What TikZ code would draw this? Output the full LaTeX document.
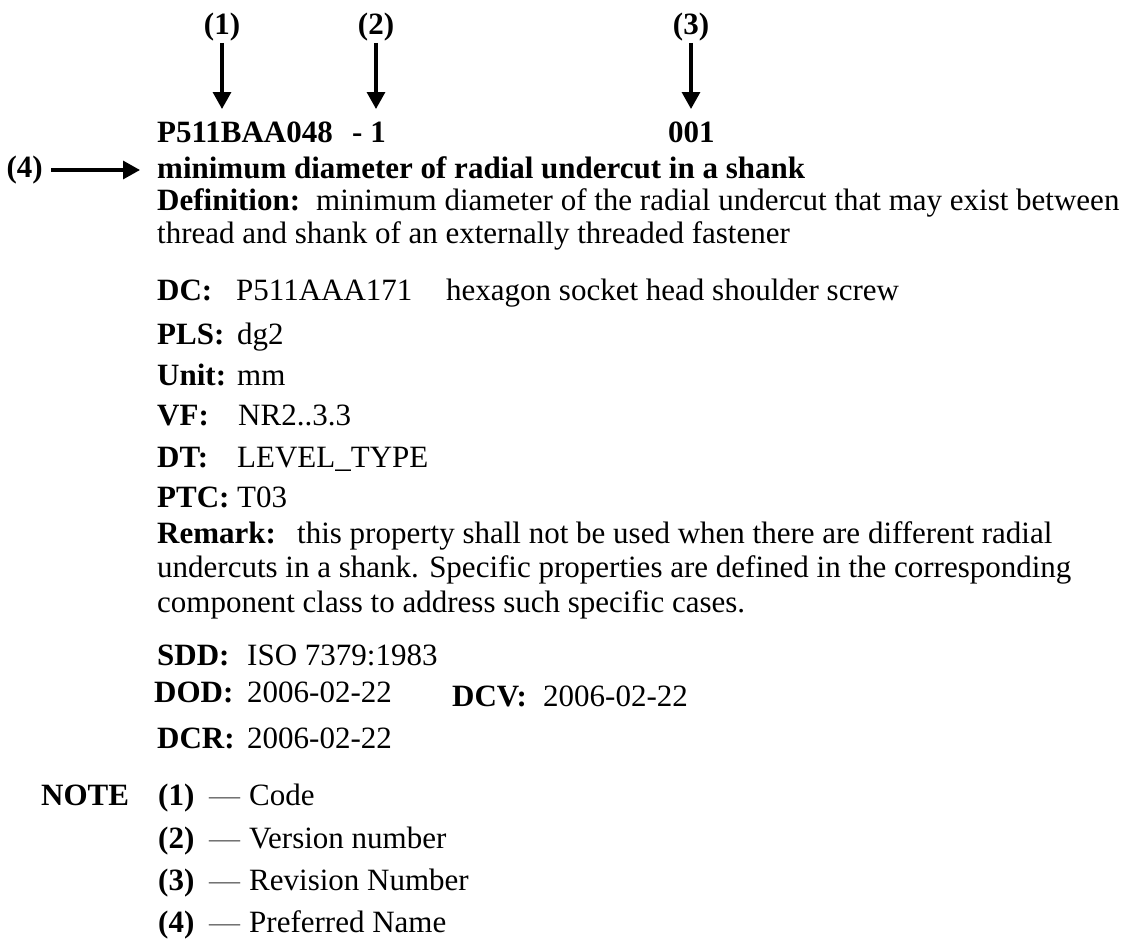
\documentclass[tikz,border=0pt]{standalone}
\usepackage{fontspec}
\setmainfont{Liberation Serif}
\usetikzlibrary{arrows.meta,positioning}

\begin{document}
\begin{tikzpicture}[x=1pt, y=-1pt,
    every node/.style = {inner sep=0pt, anchor=base west,
      font=\fontsize{31}{34}\selectfont},
    key/.style = {font=\fontsize{31}{34}\selectfont\bfseries},
    callout/.style = {key, anchor=base},
    arr/.style = {line width=3.2pt, -{Triangle[length=17pt,width=18pt]}},
    dashmark/.style = {text=black!55}]
  \useasboundingbox (0,0) rectangle (1129,940);
  % identifier line and callouts
  \node[key] (code) at (157,142) {P511BAA048};
  \node[key] (ver)  at (352,142) {- 1};
  \node[key] (rev)  at (668,142) {001};
  \node[callout] (n1) at (222,34) {(1)};
  \node[callout] (n2) at (376,34) {(2)};
  \node[callout] (n3) at (691,34) {(3)};
  \coordinate (t1) at (222,109);
  \coordinate (t2) at (376,109);
  \coordinate (t3) at (691,109);
  \draw[arr, shorten <=2pt] (n1) -- (t1);
  \draw[arr, shorten <=2pt] (n2) -- (t2);
  \draw[arr, shorten <=2pt] (n3) -- (t3);
  % preferred name
  \node[key] (pname) at (157,178) {minimum diameter of radial undercut in a shank};
  \node[key, anchor=east] (n4) at (43,170) {(4)};
  \draw[arr, shorten <=8pt, shorten >=17pt] (n4.east) -- (n4.east -| pname.west);
  % attributes
  \node[key] (defk) at (157,210) {Definition:};
  \node (defv) at (316,210) {minimum diameter of the radial undercut that may exist between};
  \node (defv2) at (157,243) {thread and shank of an externally threaded fastener};
  \node[key] (dck) at (157,300) {DC:};
  \node (dcv) at (236,300) {P511AAA171};
  \node (dcn) at (446,300) {hexagon socket head shoulder screw};
  \node[key] (plsk) at (157,344) {PLS:};
  \node (plsv) at (237,344) {dg2};
  \node[key] (unitk) at (157,385) {Unit:};
  \node (unitv) at (237,385) {mm};
  \node[key] (vfk) at (157,425) {VF:};
  \node (vfv) at (238,425) {NR2..3.3};
  \node[key] (dtk) at (157,467) {DT:};
  \node (dtv) at (237,467) {LEVEL\_TYPE};
  \node[key] (ptck) at (157,507) {PTC:};
  \node (ptcv) at (237,507) {T03};
  \node[key] (remk) at (157,543) {Remark:};
  \node (remv) at (297,543) {this property shall not be used when there are different radial};
  \node (remv2) at (157,577) {undercuts in a shank. Specific properties are defined in the corresponding};
  \node (remv3) at (157,612) {component class to address such specific cases.};
  \node[key] (sddk) at (157,665) {SDD:};
  \node (sddv) at (247,665) {ISO 7379:1983};
  \node[key] (dodk) at (154,702) {DOD:};
  \node (dodv) at (247,702) {2006-02-22};
  \node[key] (dcvk) at (452,706) {DCV:};
  \node (dcvv) at (543,706) {2006-02-22};
  \node[key] (dcrk) at (157,748) {DCR:};
  \node (dcrv) at (247,748) {2006-02-22};
  % notes
  \node[key] (note) at (41,805) {NOTE};
  \node[key] (m1) at (158,805) {(1)};
  \node[dashmark] (d1) at (209,805) {—};
  \node (e1) at (249,805) {Code};
  \node[key] (m2) at (158,848) {(2)};
  \node[dashmark] (d2) at (209,848) {—};
  \node (e2) at (249,848) {Version number};
  \node[key] (m3) at (158,890) {(3)};
  \node[dashmark] (d3) at (209,890) {—};
  \node (e3) at (249,890) {Revision Number};
  \node[key] (m4) at (158,932) {(4)};
  \node[dashmark] (d4) at (209,932) {—};
  \node (e4) at (249,932) {Preferred Name};
\end{tikzpicture}
\end{document}
